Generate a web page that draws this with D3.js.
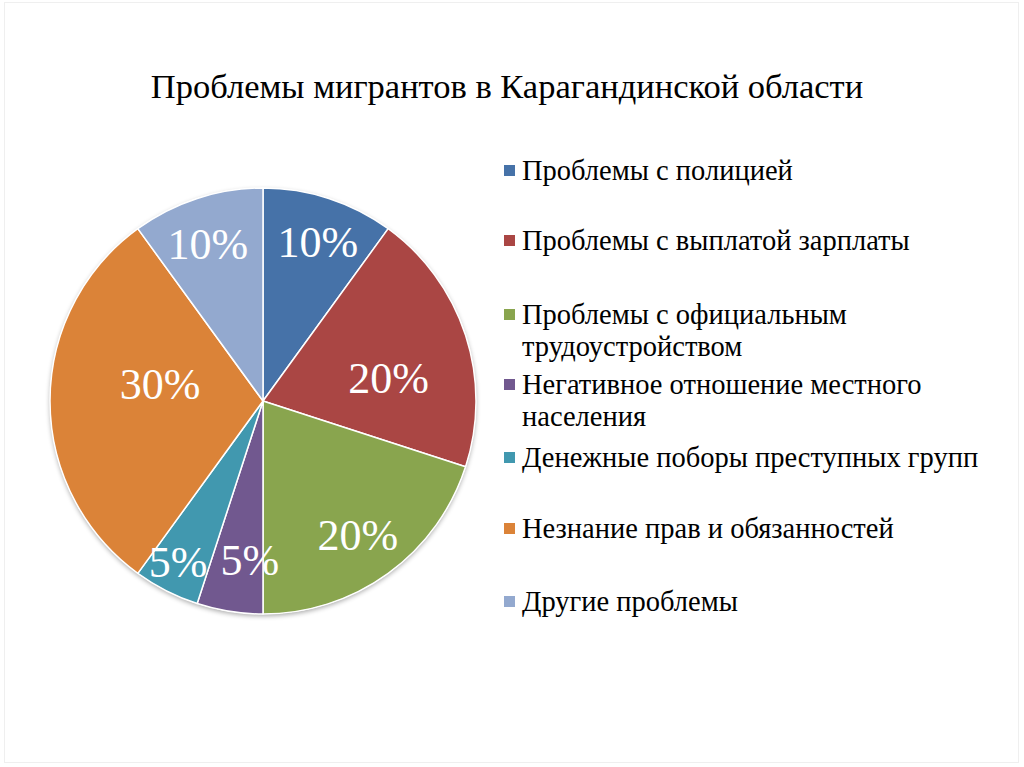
<!DOCTYPE html>
<html>
<head>
<meta charset="utf-8">
<script src="https://cdn.jsdelivr.net/npm/d3@7"></script>
<style>
    body { margin: 0; background: #fff; }
    svg { display: block; font-family: "Liberation Serif", "Times New Roman", serif; }
</style>
</head>
<body>
<svg id="chart"></svg>
<script>
const title = 'Проблемы мигрантов в Карагандинской области';
const categories = [
    ['Проблемы с полицией'],
    ['Проблемы с выплатой зарплаты'],
    ['Проблемы с официальным', 'трудоустройством'],
    ['Негативное отношение местного', 'населения'],
    ['Денежные поборы преступных групп'],
    ['Незнание прав и обязанностей'],
    ['Другие проблемы']
];
const values = [10, 20, 20, 5, 5, 30, 10];
const colors = ['#4672a8', '#aa4644', '#89a54e', '#71588f', '#4198af', '#db8338', '#93a9cf'];

const width = 1024;
const height = 767;

const svg = d3.select('svg#chart')
    .attr('width', width)
    .attr('height', height);

// faint slide frame
svg.append('rect')
    .attr('x', 4.5).attr('y', 2.5)
    .attr('width', 1014).attr('height', 760)
    .attr('fill', 'none')
    .attr('stroke', '#efefef');

svg.append('text')
    .attr('x', 507)
    .attr('y', 98)
    .attr('text-anchor', 'middle')
    .attr('font-size', 34.5)
    .attr('fill', '#000')
    .text(title);

const cx = 263, cy = 401, radius = 213;
const total = d3.sum(values);

const pie = d3.pie().sort(null).value(d => d);
const arcs = pie(values);
const arc = d3.arc().innerRadius(0).outerRadius(radius);

// Excel's best-fit label spots: [share of radius, turn off the mid angle in degrees]
const labelSpot = [[0.79, 1], [0.6, 7.6], [0.77, 0.7], [0.75, -4.3], [0.855, 0.8], [0.49, 9.3], [0.78, -1.4]];

const defs = svg.append('defs');
const shadow = defs.append('filter').attr('id', 'shadow')
    .attr('x', '-10%').attr('y', '-10%').attr('width', '120%').attr('height', '120%');
shadow.append('feGaussianBlur').attr('in', 'SourceAlpha').attr('stdDeviation', 2.5);
shadow.append('feOffset').attr('dx', 0).attr('dy', 2).attr('result', 'blur');
shadow.append('feComponentTransfer').append('feFuncA').attr('type', 'linear').attr('slope', 0.35);
const merge = shadow.append('feMerge');
merge.append('feMergeNode');
merge.append('feMergeNode').attr('in', 'SourceGraphic');

const g = svg.append('g')
    .attr('transform', `translate(${cx},${cy})`);

g.append('circle')
    .attr('r', radius)
    .attr('fill', '#fff')
    .attr('filter', 'url(#shadow)');

g.selectAll('path')
    .data(arcs)
    .join('path')
    .attr('d', arc)
    .attr('fill', (d, i) => colors[i])
    .attr('stroke', '#fff')
    .attr('stroke-width', 1.5)
    .attr('stroke-linejoin', 'round');

g.selectAll('text.pct')
    .data(arcs)
    .join('text')
    .attr('class', 'pct')
    .attr('transform', (d, i) => {
        const r = radius * labelSpot[i][0];
        const a = (d.startAngle + d.endAngle) / 2 + labelSpot[i][1] * Math.PI / 180;
        return `translate(${r * Math.sin(a)},${-r * Math.cos(a)})`;
    })
    .attr('text-anchor', 'middle')
    .attr('dy', '0.34em')
    .attr('font-size', 44)
    .attr('fill', '#fff')
    .text(d => Math.round(d.data / total * 100) + '%');

// legend
const legendTop = [170, 240, 314, 384, 457, 528, 601];
const lineHeight = 32;
const legend = svg.append('g');
const item = legend.selectAll('g')
    .data(categories)
    .join('g')
    .attr('transform', (d, i) => `translate(504,${legendTop[i]})`);

item.append('rect')
    .attr('x', 0).attr('y', -5)
    .attr('width', 11).attr('height', 11)
    .attr('fill', (d, i) => colors[i]);

item.append('text')
    .attr('font-size', 28.5)
    .attr('fill', '#000')
    .selectAll('tspan')
    .data(d => d)
    .join('tspan')
    .attr('x', 18)
    .attr('y', (d, i) => i * lineHeight)
    .attr('dy', '0.34em')
    .text(d => d);
</script>
</body>
</html>
